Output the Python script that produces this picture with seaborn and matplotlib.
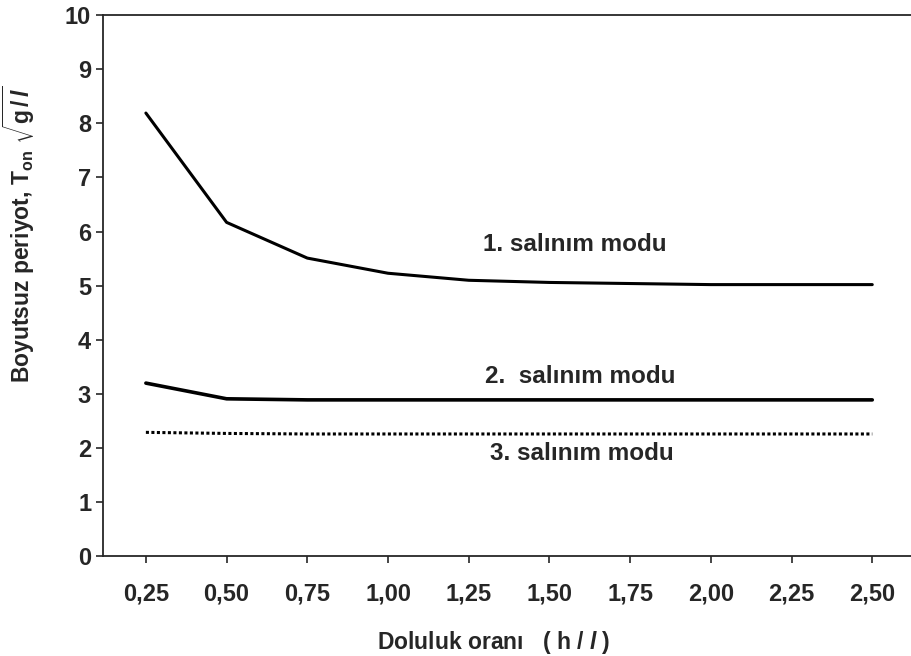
import pandas as pd
import matplotlib.pyplot as plt
import seaborn as sns
from matplotlib.ticker import FuncFormatter

# h / l ratio
oran = [0.25, 0.50, 0.75, 1.00, 1.25, 1.50, 1.75, 2.00, 2.25, 2.50]
mod1 = [8.19, 6.17, 5.51, 5.23, 5.10, 5.06, 5.04, 5.02, 5.02, 5.02]
mod2 = [3.20, 2.91, 2.89, 2.89, 2.89, 2.89, 2.89, 2.89, 2.89, 2.89]
mod3 = [2.29, 2.27, 2.26, 2.26, 2.26, 2.26, 2.26, 2.26, 2.26, 2.26]

labels = ['1. salınım modu', '2.  salınım modu', '3. salınım modu']
label_pos = [(1.58, 5.77), (1.595, 3.33), (1.60, 1.90)]

sns.set_style('ticks')
plt.rcParams['font.family'] = ['Liberation Sans', 'DejaVu Sans']
plt.rcParams['font.weight'] = 'bold'
plt.rcParams['mathtext.fontset'] = 'custom'
plt.rcParams['mathtext.rm'] = 'Liberation Sans:bold'
plt.rcParams['mathtext.bf'] = 'Liberation Sans:bold'
plt.rcParams['mathtext.it'] = 'Liberation Sans:italic:bold'

data = pd.DataFrame({
    'oran': oran * 3,
    'T': mod1 + mod2 + mod3,
    'mod': [labels[0]] * 10 + [labels[1]] * 10 + [labels[2]] * 10,
})

fig = plt.figure(figsize=(9.11, 6.56), dpi=100)
ax = fig.add_axes([0.113, 0.152, 0.887, 0.825])

styles = {labels[0]: dict(lw=2.2, ls='-'),
          labels[1]: dict(lw=2.6, ls='-'),
          labels[2]: dict(lw=2.2, ls=(0, (1, 0.8)))}

for m in labels:
    sub = data[data['mod'] == m]
    sns.lineplot(data=sub, x='oran', y='T', color='black',
                 linewidth=styles[m]['lw'], linestyle=styles[m]['ls'],
                 ax=ax, legend=False)

for txt, (x, y) in zip(labels, label_pos):
    ax.text(x, y, txt, ha='center', va='center', fontsize=17.5, fontweight='bold')

ax.set_xlim(0.117, 2.62)
ax.set_ylim(0, 10)
ax.set_xticks(oran)
ax.set_yticks(range(0, 11))
ax.xaxis.set_major_formatter(FuncFormatter(lambda v, p: f'{v:.2f}'.replace('.', ',')))
ax.tick_params(axis='both', labelsize=17, length=5, width=1.2, direction='out')
ax.tick_params(axis='x', pad=14)

ax.set_xlabel(r'Doluluk oranı   ( h / $\mathit{l}$ )', fontsize=16.5, fontweight='bold')
ax.set_ylabel(r'Boyutsuz periyot, T$_{\rm on}$ $\sqrt{\rm g\,/\,\mathit{l}}$',
              fontsize=16.5, fontweight='bold')
ax.xaxis.set_label_coords(0.483, -0.135)
ax.yaxis.set_label_coords(-0.082, 0.595)

ax.spines['right'].set_visible(False)
for s in ['left', 'bottom', 'top']:
    ax.spines[s].set_linewidth(1.3)

fig.savefig('out.png', dpi=100)
